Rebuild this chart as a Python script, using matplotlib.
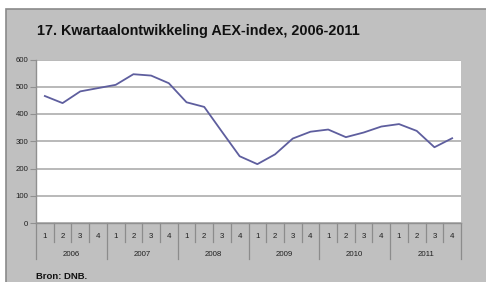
import matplotlib
matplotlib.use("Agg")
import matplotlib.pyplot as plt
from matplotlib.patches import Rectangle

years = ["2006", "2007", "2008", "2009", "2010", "2011"]
quarters = ["1", "2", "3", "4"]
aex = [466, 440, 483, 495, 507, 546, 541, 513,
       443, 426, 335, 245, 216, 252, 310, 335,
       343, 315, 332, 354, 363, 338, 278, 311]
yticks = [0, 100, 200, 300, 400, 500, 600]

W, H = 486, 282
fig = plt.figure(figsize=(W / 100, H / 100), dpi=100)
fig.patch.set_facecolor("white")
plt.rcParams['font.family'] = ['Liberation Sans', 'DejaVu Sans']

# outer gray frame
fig.patches.append(Rectangle((6 / W, -0.1), 1.2, (H - 9) / H + 0.1,
                             transform=fig.transFigure, facecolor="#c0c0c0",
                             edgecolor="#8a8a8a", lw=1.2, zorder=-5))

ax = fig.add_axes([36 / W, 1 - 223 / H, 425 / W, (223 - 59.5) / H])
ax.set_zorder(2)
ax.set_facecolor("white")
n = len(aex)
xs = [i + 0.5 for i in range(n)]
ax.plot(xs, aex, color="#5e5e9e", lw=1.3, zorder=3)
ax.set_xlim(0, n)
ax.set_ylim(0, 600)
ax.set_yticks(yticks)
ax.set_yticklabels([str(v) for v in yticks], fontsize=5.6, color="#202020")
ax.tick_params(axis="y", length=4, width=0.8, color="#909090", pad=1.5)
ax.set_xticks([])
ax.grid(axis="y", color="#a6a6a6", lw=1.1)
for s in ["top", "right"]:
    ax.spines[s].set_visible(False)
ax.spines["left"].set_color("#909090")
ax.spines["bottom"].set_color("#909090")
ax.spines["left"].set_linewidth(1.0)
ax.spines["bottom"].set_linewidth(1.0)

tr = ax.get_xaxis_transform()
ah = (223 - 59.5)
q_sep = -(242 - 223) / ah
y_sep = -(259 - 223) / ah
q_lab = -(236 - 223) / ah
y_lab = -(254 - 223) / ah
for k in range(n + 1):
    yb = y_sep if k % 4 == 0 else q_sep
    ax.plot([k, k], [0, yb], transform=tr, color="#8c8c8c", lw=0.9, clip_on=False)
for i in range(n):
    ax.text(i + 0.5, q_lab, quarters[i % 4], transform=tr, ha="center", va="center",
            fontsize=5.7, color="#202020")
for j, yv in enumerate(years):
    ax.text(j * 4 + 2, y_lab, yv, transform=tr, ha="center", va="center",
            fontsize=5.7, color="#202020")

fig.text(37 / W, 1 - 31 / H, "17. Kwartaalontwikkeling AEX-index, 2006-2011",
         fontsize=10.4, fontweight="bold", ha="left", va="center", color="#111111")
fig.text(36 / W, 1 - 276.5 / H, "Bron: DNB.", fontsize=6.8, fontweight="bold",
         ha="left", va="center", color="#111111")

fig.savefig("out.png", dpi=100, facecolor=fig.get_facecolor())
